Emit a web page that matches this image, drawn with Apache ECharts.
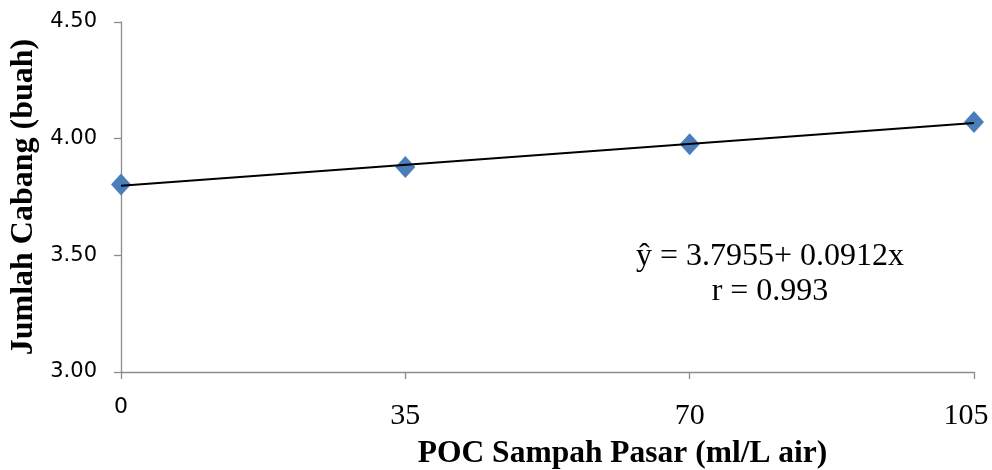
<!DOCTYPE html>
<html>
<head>
<meta charset="utf-8">
<script src="https://cdn.jsdelivr.net/npm/echarts@6/dist/echarts.min.js"></script>
<style>
	html, body { margin: 0; padding: 0; background: #fff; }
	#chart { width: 992px; height: 470px; }
</style>
</head>
<body>
<div id="chart"></div>
<script>
	// data
	var doses = [0, 35, 70, 105];
	var branches = [3.804, 3.879, 3.976, 4.071];
	var yTicks = [3.00, 3.50, 4.00, 4.50];
	var xTitle = 'POC Sampah Pasar (ml/L air)';
	var yTitle = 'Jumlah Cabang (buah)';
	var eqLines = ['ŷ = 3.7955+ 0.0912x', 'r = 0.993'];

	var serif = '"Liberation Serif", "Times New Roman", serif';
	var sans = '"DejaVu Sans", sans-serif';
	var axisGray = '#8c8c8c';

	// least squares trend line through the points
	function fit(xs, ys) {
		var n = xs.length, sx = 0, sy = 0, sxy = 0, sxx = 0;
		for (var i = 0; i < n; i++) {
			sx += xs[i]; sy += ys[i];
			sxy += xs[i] * ys[i]; sxx += xs[i] * xs[i];
		}
		var b = (n * sxy - sx * sy) / (n * sxx - sx * sx);
		var a = (sy - b * sx) / n;
		return function(x) { return a + b * x; };
	}
	var trend = fit(doses, branches);
	var xMin = doses[0], xMax = doses[doses.length - 1];

	var chart = echarts.init(document.getElementById('chart'));
	chart.setOption({
		animation: false,
		backgroundColor: '#fff',
		grid: { left: 121, right: 18, top: 22, bottom: 98, outerBoundsMode: 'none', containLabel: false },
		xAxis: {
			type: 'value',
			min: 0, max: 105, interval: 35,
			splitLine: { show: false },
			axisLine: { lineStyle: { color: axisGray, width: 1.3 } },
			axisTick: { show: true, length: 7, lineStyle: { color: axisGray, width: 1.3 } },
			axisLabel: {
				margin: 24,
				formatter: function(v) {
					if (v === xMin) return '{s|' + v + '}';
					if (v === xMax) return '{e|' + v + '}';
					return '{t|' + v + '}';
				},
				rich: {
					s: { fontFamily: sans, fontSize: 22, color: '#000', lineHeight: 22 },
					t: { fontFamily: serif, fontSize: 30, color: '#000', lineHeight: 30, padding: [10, 0, 0, 0] },
					e: { fontFamily: serif, fontSize: 30, color: '#000', lineHeight: 30, padding: [10, 16, 0, 0] }
				}
			},
			name: xTitle,
			nameLocation: 'middle',
			nameGap: 66,
			nameTextStyle: {
				fontFamily: serif, fontSize: 31.5, fontWeight: 'bold', color: '#000',
				padding: [0, 0, 0, 150]
			}
		},
		yAxis: {
			type: 'value',
			min: yTicks[0], max: yTicks[yTicks.length - 1], interval: 0.5,
			splitLine: { show: false },
			axisLine: { show: true, lineStyle: { color: axisGray, width: 1.3 } },
			axisTick: { show: true, length: 7, lineStyle: { color: axisGray, width: 1.3 } },
			axisLabel: {
				margin: 24,
				fontFamily: sans, fontSize: 21, color: '#000',
				formatter: function(v) { return v.toFixed(2); }
			},
			name: yTitle,
			nameLocation: 'middle',
			nameGap: 72,
			nameTextStyle: { fontFamily: serif, fontSize: 32, fontWeight: 'bold', color: '#000' }
		},
		series: [
			{
				type: 'scatter',
				symbol: 'diamond',
				symbolSize: [20, 22],
				itemStyle: { color: '#4a7ebb', opacity: 1 },
				z: 2,
				data: doses.map(function(x, i) { return [x, branches[i]]; })
			},
			{
				type: 'line',
				symbol: 'none',
				silent: true,
				lineStyle: { color: '#000', width: 2 },
				z: 3,
				data: [[xMin, trend(xMin)], [xMax, trend(xMax)]]
			}
		],
		graphic: [
			{
				type: 'text',
				x: 770, y: 239,
				style: {
					text: eqLines.join('\n'),
					font: '32px ' + serif,
					fill: '#000',
					align: 'center',
					verticalAlign: 'top',
					lineHeight: 35
				}
			}
		]
	});
</script>
</body>
</html>
